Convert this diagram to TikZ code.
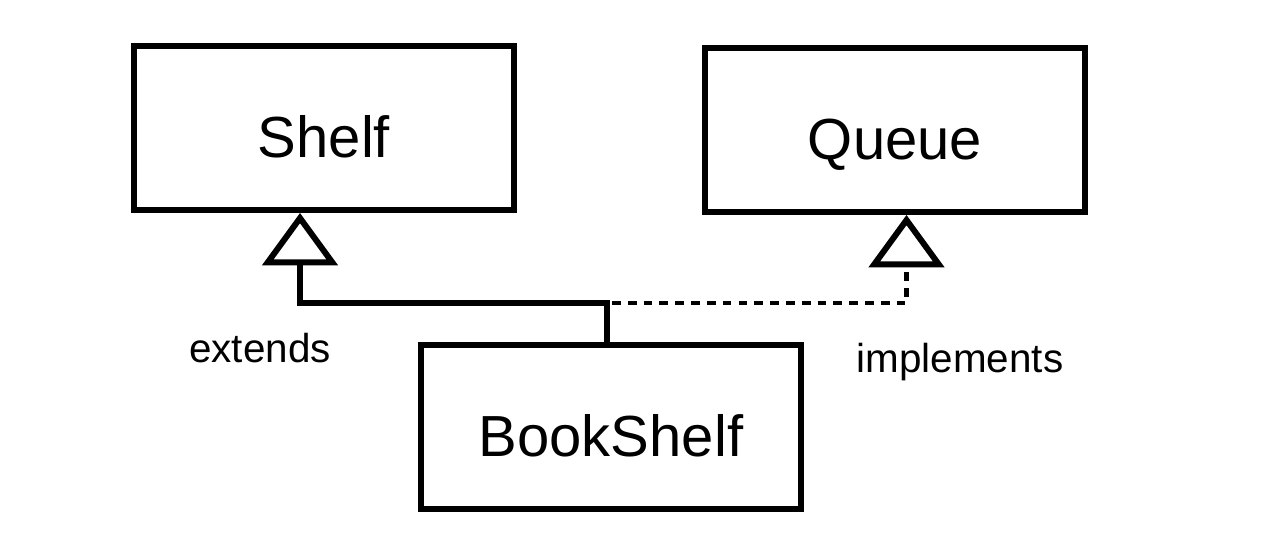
\documentclass[tikz,border=0pt]{standalone}
\usepackage{fontspec}
\setmainfont{Liberation Sans}
\usetikzlibrary{arrows.meta, positioning}

\begin{document}
\begin{tikzpicture}[
    x=0.02cm, y=-0.02cm,
    classbox/.style={draw=black, line width=3.4pt, minimum width=7.6cm, minimum height=3.28cm,
                     text height=1.2cm, text depth=0pt, font=\fontsize{33}{40}\selectfont},
    relnote/.style={font=\fontsize{23}{28}\selectfont},
    inherit/.style={line width=3.4pt, -{Triangle[open, length=1.05cm, width=1.5cm, line width=3.4pt]}},
    realize/.style={line width=2.3pt, dash pattern=on 5pt off 4pt,
                    -{Triangle[open, length=1.05cm, width=1.5cm, line width=3.4pt]}},
]
    \useasboundingbox (0,0) rectangle (1276,534);

    \node[classbox] (shelf) at (324, 128) {Shelf};
    \node[classbox] (queue) at (895, 130) {Queue};
    \node[classbox] (book) at (611, 427) {BookShelf};

    \coordinate (joint) at (607, 303);

    % extends / implements
    \draw[inherit] (book.north -| joint) -- (joint) -| ([xshift=-0.48cm]shelf.south);
    \draw[realize] ([xshift=0.1cm]joint) -| ([xshift=0.23cm]queue.south);

    \node[relnote] (ext) at (260, 348) {extends};
    \node[relnote] (impl) at (960, 362) {implements};
\end{tikzpicture}
\end{document}
